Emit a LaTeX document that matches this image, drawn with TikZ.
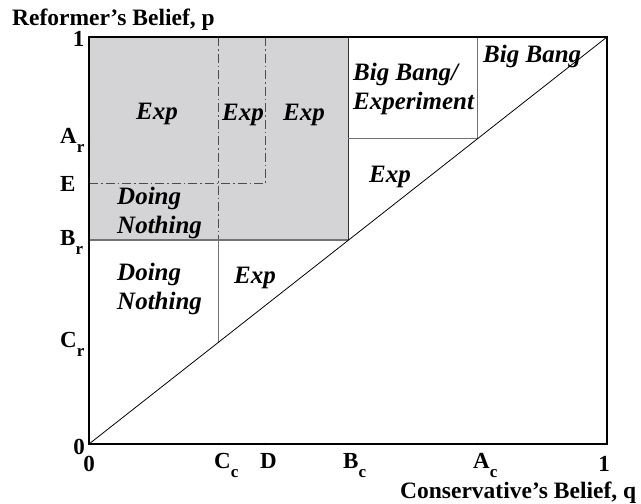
\documentclass[tikz,border=0pt]{standalone}
\usepackage{fontspec}
\setmainfont{Liberation Serif}
\usepackage{graphicx}
\newcommand{\sbl}[2]{#1\raisebox{-9pt}{\fontsize{17}{17}\selectfont #2}}
\begin{document}
\begin{tikzpicture}[x=1pt,y=-1pt,
  reg/.style={font=\fontsize{25}{29}\selectfont\bfseries\itshape, inner sep=0pt, anchor=base west},
  axt/.style={font=\fontsize{23.5}{28}\selectfont\bfseries, inner sep=0pt, anchor=base west},
  tl/.style={font=\fontsize{23}{24}\selectfont\bfseries, inner sep=0pt},
  dd/.style={draw=black!70, line width=0.9pt, dash pattern=on 9pt off 3pt on 1.5pt off 3pt},
  gl/.style={draw=black!55, line width=1.2pt},
  dl/.style={draw=black!80, line width=1.3pt},
  tick/.style={fill=black, circle, inner sep=0pt, minimum size=2.4pt}]
\useasboundingbox (0,0) rectangle (641,504);
% frame corners and ticks
\coordinate (O) at (89,444);
\coordinate (Q1) at (607,444);
\coordinate (P1) at (89,37);
\coordinate (TR) at (607,37);
\coordinate (Ar) at (89,138.5);
\coordinate (E) at (89,183);
\coordinate (Br) at (89,240);
\coordinate (Cr) at (89,342.5);
\coordinate (Cc) at (218.7,444);
\coordinate (D) at (265.7,444);
\coordinate (Bc) at (348.3,444);
\coordinate (Ac) at (477.7,444);
\coordinate (CcT) at (218.7,37);
\coordinate (CcB) at (218.7,240);
\coordinate (CcD) at (218.7,342.5);
\coordinate (DT) at (265.7,37);
\coordinate (DE) at (265.7,183);
\coordinate (BcT) at (348.3,37);
\coordinate (BcB) at (348.3,240);
\coordinate (BcA) at (348.3,138.5);
\coordinate (AcT) at (477.7,37);
\coordinate (AcA) at (477.7,138.5);
% shaded region
\fill[fill={rgb,255:red,212;green,212;blue,214}] (P1) rectangle (BcB);
% dash-dot lines
\draw[dd] (CcT) -- (CcB);
\draw[dd] (DT) -- (DE);
\draw[dd] (E) -- (DE);
% solid inner lines
\draw[gl] (Br) -- (BcB);
\draw[gl] (CcB) -- (CcD);
\draw[dl] (BcT) -- (BcB);
\draw[gl] (BcA) -- (AcA);
\draw[gl] (AcT) -- (AcA);
% diagonal
\draw[black, line width=0.8pt] (O) -- (TR);
% frame
\draw[black, line width=1.3pt] (P1) -- (O) -- (Q1) -- (TR) -- cycle;
% tick dots
\foreach \t in {Ar,E,Br,Cr,Cc,D,Bc,Ac} \node[tick] at (\t) {};
% region labels
\node[reg] (x1) at (136,119) {Exp};
\node[reg] (x2) at (222,120) {Exp};
\node[reg] (x3) at (283,120) {Exp};
\node[reg] (dn1) at (117,204) {\begin{tabular}[t]{@{}l@{}}Doing\\Nothing\end{tabular}};
\node[reg] (dn2) at (117,280) {\begin{tabular}[t]{@{}l@{}}Doing\\Nothing\end{tabular}};
\node[reg] (x4) at (234,283) {Exp};
\node[reg] (x5) at (369,182) {Exp};
\node[reg] (bbe) at (353,80) {\begin{tabular}[t]{@{}l@{}}Big Bang/\\Experiment\end{tabular}};
\node[reg] (bb) at (483,62) {Big Bang};
% axis titles
\node[axt] (ytitle) at (12,25) {Reformer’s Belief, p};
\node[axt] (xtitle) at (400,498) {Conservative’s Belief, q};
% tick labels
\node[tl, anchor=base] (l1) at (78.5,46) {1};
\node[tl, anchor=base] (l0) at (79,454) {0};
\node[tl, anchor=base] (b0) at (89,471) {0};
\node[tl, anchor=base] (b1) at (604,471) {1};
\node[tl, anchor=base west] (lAr) at (60,143) {\sbl{A}{r}};
\node[tl, anchor=base west] (lE) at (60,191) {E};
\node[tl, anchor=base west] (lBr) at (60,245) {\sbl{B}{r}};
\node[tl, anchor=base west] (lCr) at (60,347) {\sbl{C}{r}};
\node[tl, anchor=base west] (lCc) at (214,468) {\sbl{C}{c}};
\node[tl, anchor=base west] (lD) at (260,468) {D};
\node[tl, anchor=base west] (lBc) at (343,468) {\sbl{B}{c}};
\node[tl, anchor=base west] (lAc) at (473,468) {\sbl{A}{c}};
\end{tikzpicture}
\end{document}
